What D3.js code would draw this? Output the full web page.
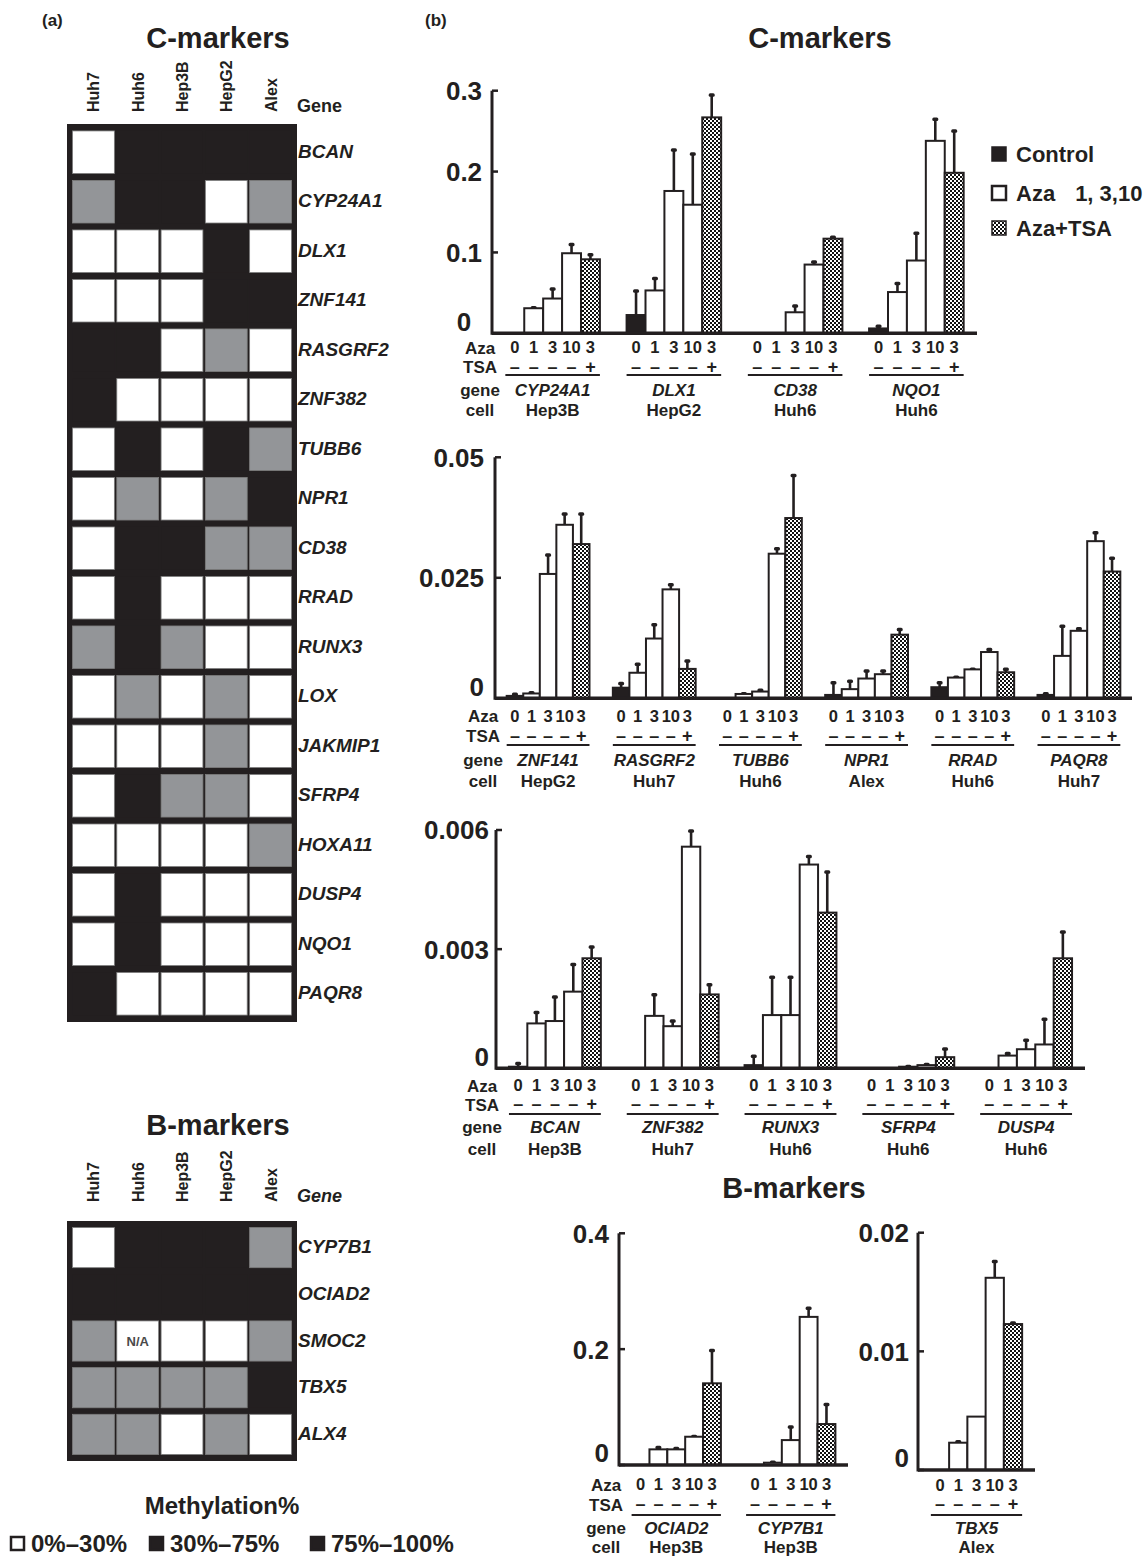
<!DOCTYPE html>
<html><head><meta charset="utf-8">
<script src="https://cdn.jsdelivr.net/npm/d3@7"></script>
<style>
body{margin:0;background:#fff}
svg text{font-family:"Liberation Sans",Arial,Helvetica,sans-serif;fill:#231f20}
</style></head>
<body><svg id="c" width="1148" height="1558"></svg>
<script>
// ---------------- DATA ----------------
const cellLines = ["Huh7","Huh6","Hep3B","HepG2","Alex"];
// methylation class: 0 = 0-30%, 1 = 30-75%, 2 = 75-100%, -1 = N/A
const cGenes = ["BCAN","CYP24A1","DLX1","ZNF141","RASGRF2","ZNF382","TUBB6","NPR1","CD38","RRAD","RUNX3","LOX","JAKMIP1","SFRP4","HOXA11","DUSP4","NQO1","PAQR8"];
const cMeth = [
  [0,2,2,2,2],[1,2,2,0,1],[0,0,0,2,0],[0,0,0,2,2],[2,2,0,1,0],[2,0,0,0,0],
  [0,2,0,2,1],[0,1,0,1,2],[0,2,2,1,1],[0,2,0,0,0],[1,2,1,0,0],[0,1,0,1,0],
  [0,0,0,1,0],[0,2,1,1,0],[0,0,0,0,1],[0,2,0,0,0],[0,2,0,0,0],[2,0,0,0,0]
];
const bGenes = ["CYP7B1","OCIAD2","SMOC2","TBX5","ALX4"];
const bMeth = [[0,2,2,2,1],[2,2,2,2,2],[1,-1,0,0,1],[1,1,1,1,2],[1,1,0,1,0]];
const methLegend = ["0%\u201330%","30%\u201375%","75%\u2013100%"];

const azaDoses = ["0","1","3","10","3"];
const tsaSigns = ["\u2013","\u2013","\u2013","\u2013","+"];
const rowLabels = ["Aza","TSA","gene","cell"];
const seriesNames = ["Control","Aza","Aza+TSA"];

const c1Genes = ["CYP24A1","DLX1","CD38","NQO1"];
const c1Cells = ["Hep3B","HepG2","Huh6","Huh6"];
const c1Values = [[0,0.031,0.043,0.099,0.0915],[0.0226,0.053,0.176,0.159,0.267],[0,0,0.026,0.085,0.117],[0.006,0.051,0.090,0.238,0.1985]];
const c1Errors = [[0,0.001,0.012,0.011,0.006],[0.030,0.015,0.051,0.063,0.028],[0,0,0.008,0.0035,0.002],[0.003,0.011,0.034,0.027,0.052]];
const c1Ticks = [0,0.1,0.2,0.3];
const c1TickLabels = ["0","0.1","0.2","0.3"];

const c2Genes = ["ZNF141","RASGRF2","TUBB6","NPR1","RRAD","PAQR8"];
const c2Cells = ["HepG2","Huh7","Huh6","Alex","Huh6","Huh7"];
const c2Values = [[0.0005,0.001,0.0258,0.036,0.032],[0.0022,0.0053,0.0124,0.0226,0.0061],[0,0.0009,0.0014,0.030,0.0374],[0.0007,0.0019,0.0041,0.005,0.0132],[0.0023,0.0043,0.006,0.0096,0.0054],[0.0007,0.0088,0.014,0.0326,0.0263]];
const c2Errors = [[0.0004,0.0002,0.004,0.0023,0.0063],[0.0009,0.0018,0.0029,0.001,0.0017],[0,0.0001,0.0003,0.0011,0.0089],[0.0026,0.0017,0.0016,0.0007,0.0011],[0.001,0.0001,0.0001,0.0006,0.0007],[0.0003,0.0062,0.0005,0.0018,0.0028]];
const c2Ticks = [0,0.025,0.05];
const c2TickLabels = ["0","0.025","0.05"];

const c3Genes = ["BCAN","ZNF382","RUNX3","SFRP4","DUSP4"];
const c3Cells = ["Hep3B","Huh7","Huh6","Huh6","Huh6"];
const c3Values = [[0.00004,0.00113,0.00119,0.00193,0.00277],[0,0.00132,0.00106,0.00558,0.00186],[0.00008,0.00134,0.00134,0.00513,0.00392],[0,0,0.00004,0.00008,0.00028],[0,0.00032,0.00048,0.0006,0.00277]];
const c3Errors = [[0.00009,0.00028,0.00061,0.00069,0.00029],[0,0.00054,0.00014,0.0004,0.00025],[0.00023,0.00096,0.00096,0.00021,0.00103],[0,0,0.00001,0.00002,0.00021],[0,0.00006,0.00023,0.00064,0.00067]];
const c3Ticks = [0,0.003,0.006];
const c3TickLabels = ["0","0.003","0.006"];

const b1Genes = ["OCIAD2","CYP7B1"];
const b1Cells = ["Hep3B","Hep3B"];
const b1Values = [[0,0.027,0.027,0.0488,0.141],[0,0.004,0.043,0.2557,0.0707]];
const b1Errors = [[0,0.0035,0.002,0.001,0.057],[0,0.001,0.023,0.0153,0.034]];
const b1Ticks = [0,0.2,0.4];
const b1TickLabels = ["0","0.2","0.4"];

const b2Genes = ["TBX5"];
const b2Cells = ["Alex"];
const b2Values = [[0,0.0023,0.0045,0.0162,0.0123]];
const b2Errors = [[0,0.0001,0,0.0014,0.0001]];
const b2Ticks = [0,0.01,0.02];
const b2TickLabels = ["0","0.01","0.02"];

// ---------------- DRAW ----------------
const INK = "#231f20", GREY = "#939598";
const svg = d3.select("#c");
const defs = svg.append("defs");
const pat = defs.append("pattern").attr("id","chk").attr("width",4).attr("height",4).attr("patternUnits","userSpaceOnUse");
pat.append("rect").attr("width",4).attr("height",4).attr("fill","#fff");
pat.append("rect").attr("width",2).attr("height",2).attr("fill","#111");
pat.append("rect").attr("x",2).attr("y",2).attr("width",2).attr("height",2).attr("fill","#111");

function txt(x, y, s, size, opts={}) {
  const t = svg.append("text").attr("x",x).attr("y",y).attr("font-size",size)
    .attr("font-weight", opts.weight||"bold").attr("text-anchor", opts.anchor||"start").text(s);
  if (opts.italic) t.attr("font-style","italic");
  if (opts.dy) t.attr("dy", opts.dy);
  return t;
}

// panel labels & titles
txt(42, 26, "(a)", 17);
txt(425, 26, "(b)", 17);
txt(218, 48, "C-markers", 29, {anchor:"middle"});
txt(820, 48, "C-markers", 29, {anchor:"middle"});
txt(218, 1135, "B-markers", 29, {anchor:"middle"});
txt(794, 1198, "B-markers", 29, {anchor:"middle"});

// heatmaps
const methFill = v => v === 2 ? INK : v === 1 ? GREY : "#fff";
function heatmap(genes, meth, top, bottom, headerBase, geneItalic) {
  const col = d3.scaleBand().domain(cellLines).range([67,297]).paddingInner(0.055).paddingOuter(0.125);
  const row = d3.scaleBand().domain(genes).range([top,bottom]).paddingInner(0.14).paddingOuter(0.14);
  svg.append("rect").attr("x",67).attr("y",top).attr("width",230).attr("height",bottom-top).attr("fill",INK);
  genes.forEach((gname, ri) => {
    cellLines.forEach((cl, ci) => {
      const v = meth[ri][ci];
      svg.append("rect").attr("x",col(cl)).attr("y",row(gname)).attr("width",col.bandwidth()).attr("height",row.bandwidth())
        .attr("fill", methFill(v)).attr("stroke", v===2 ? "none" : "#7d7d7d").attr("stroke-width",0.8);
      if (v === -1) txt(col(cl)+col.bandwidth()/2, row(gname)+row.bandwidth()/2, "N/A", 13, {anchor:"middle", dy:"0.35em"}).style("fill","#4a4a4a");
    });
    txt(298, row(gname)+row.bandwidth()/2, gname, 19, {italic:true, dy:"0.3em"});
  });
  cellLines.forEach(cl => {
    svg.append("text").attr("transform",`translate(${col(cl)+col.bandwidth()/2+6},${headerBase}) rotate(-90)`)
      .attr("font-size",16).attr("font-weight","bold").text(cl);
  });
  txt(297, headerBase, "Gene", 18, {italic: geneItalic});
}
heatmap(cGenes, cMeth, 124, 1022, 112, false);
heatmap(bGenes, bMeth, 1221, 1461, 1202, true);

// methylation legend
txt(222, 1514, "Methylation%", 24, {anchor:"middle"});
const legX = [10, 149, 310];
methLegend.forEach((s, i) => {
  svg.append("rect").attr("x",legX[i]+1).attr("y",1537).attr("width",13).attr("height",13)
    .attr("fill", i===0 ? "#fff" : INK).attr("stroke",INK).attr("stroke-width",2.5);
  txt(legX[i]+21, 1552, s, 24);
});

// series legend
const serY = [154, 193, 228];
seriesNames.forEach((s, i) => {
  svg.append("rect").attr("x",992).attr("y",serY[i]-7).attr("width",14).attr("height",14)
    .attr("fill", i===0 ? INK : i===1 ? "#fff" : "url(#chk)").attr("stroke",INK).attr("stroke-width", i===1 ? 2.5 : 1.5);
  const t = txt(1016, serY[i], s, 22, {dy:"0.36em"});
  if (i === 1) t.append("tspan").attr("dx", 20).text("1, 3,10");
});

// bar charts
function barChart(L, genes, cells, values, errors, ticks, tickLabels) {
  const x = d3.scaleBand().domain(genes).range([L.x0, L.x1]).paddingInner(0.22).paddingOuter(0.11);
  const xi = d3.scaleBand().domain(d3.range(azaDoses.length)).range([0, x.bandwidth()]);
  const y = d3.scaleLinear().domain([0, ticks[ticks.length-1]]).range([L.base, L.top]);
  const g = svg.append("g");
  genes.forEach((gn, gi) => {
    values[gi].forEach((v, i) => {
      const bx = x(gn) + xi(i), bw = xi.bandwidth(), cx = bx + bw/2;
      const e = errors[gi][i];
      if (v > 0 && e > 0) {
        g.append("line").attr("x1",cx).attr("x2",cx).attr("y1",y(v)).attr("y2",y(v+e)).attr("stroke",INK).attr("stroke-width",2.6);
        g.append("rect").attr("x",cx-3).attr("y",y(v+e)-1.5).attr("width",6).attr("height",3.5).attr("rx",1.5).attr("fill",INK);
      }
      if (v > 0) {
        g.append("rect").attr("x",bx).attr("y",y(v)).attr("width",bw).attr("height",y(0)-y(v))
          .attr("fill", i===0 ? INK : i===4 ? "url(#chk)" : "#fff").attr("stroke",INK).attr("stroke-width",2);
      }
    });
    const gx0 = x(gn), gx1 = x(gn)+x.bandwidth();
    azaDoses.forEach((d, i) => {
      const cx = gx0 + xi(i) + xi.bandwidth()/2;
      txt(cx, L.rows[0], d, 16.5, {anchor:"middle", dy:"0.36em"});
      txt(cx, L.rows[1], tsaSigns[i], 18, {anchor:"middle", dy:"0.33em"});
    });
    g.append("line").attr("x1",gx0).attr("x2",gx1).attr("y1",L.rows[2]).attr("y2",L.rows[2]).attr("stroke",INK).attr("stroke-width",2);
    txt((gx0+gx1)/2, L.rows[3], gn, 17, {anchor:"middle", italic:true, dy:"0.36em"});
    txt((gx0+gx1)/2, L.rows[4], cells[gi], 17, {anchor:"middle", dy:"0.36em"});
  });
  if (L.labelX) {
    [L.rows[0], L.rows[1], L.rows[3], L.rows[4]].forEach((ry, k) => txt(L.labelX, ry, rowLabels[k], 17, {anchor:"middle", dy:"0.36em"}));
  }
  g.append("line").attr("x1",L.x0).attr("x2",L.x0).attr("y1",L.top).attr("y2",L.base+1.5).attr("stroke",INK).attr("stroke-width",3);
  g.append("line").attr("x1",L.x0).attr("x2",L.x1).attr("y1",L.base).attr("y2",L.base).attr("stroke",INK).attr("stroke-width",3.5);
  ticks.forEach((t, k) => {
    g.append("line").attr("x1",L.x0).attr("x2",L.x0+6).attr("y1",y(t)).attr("y2",y(t)).attr("stroke",INK).attr("stroke-width",2.5);
    txt(L.tickX, y(t) - (t===0 ? 12 : 0), tickLabels[k], 26, {anchor:L.tickAnchor, dy:"0.36em"});
  });
}

barChart({x0:492, x1:977, top:90.7, base:333.3, rows:[347.5,367,375,390,410], labelX:480, tickX:464, tickAnchor:"middle"},
  c1Genes, c1Cells, c1Values, c1Errors, c1Ticks, c1TickLabels);
barChart({x0:495, x1:1132, top:457.3, base:698.3, rows:[716,736,745,760,780.7], labelX:483, tickX:484, tickAnchor:"end"},
  c2Genes, c2Cells, c2Values, c2Errors, c2Ticks, c2TickLabels);
barChart({x0:496, x1:1085, top:830, base:1068.3, rows:[1085.5,1104.5,1114,1127,1149], labelX:482, tickX:489, tickAnchor:"end"},
  c3Genes, c3Cells, c3Values, c3Errors, c3Ticks, c3TickLabels);
barChart({x0:619, x1:848, top:1233.3, base:1465, rows:[1484.5,1504.5,1515,1527.5,1546.5], labelX:606, tickX:609, tickAnchor:"end"},
  b1Genes, b1Cells, b1Values, b1Errors, b1Ticks, b1TickLabels);
barChart({x0:918, x1:1035, top:1232.7, base:1470, rows:[1485.5,1504.5,1515,1528,1546.5], labelX:null, tickX:909, tickAnchor:"end"},
  b2Genes, b2Cells, b2Values, b2Errors, b2Ticks, b2TickLabels);
</script>
</body></html>
